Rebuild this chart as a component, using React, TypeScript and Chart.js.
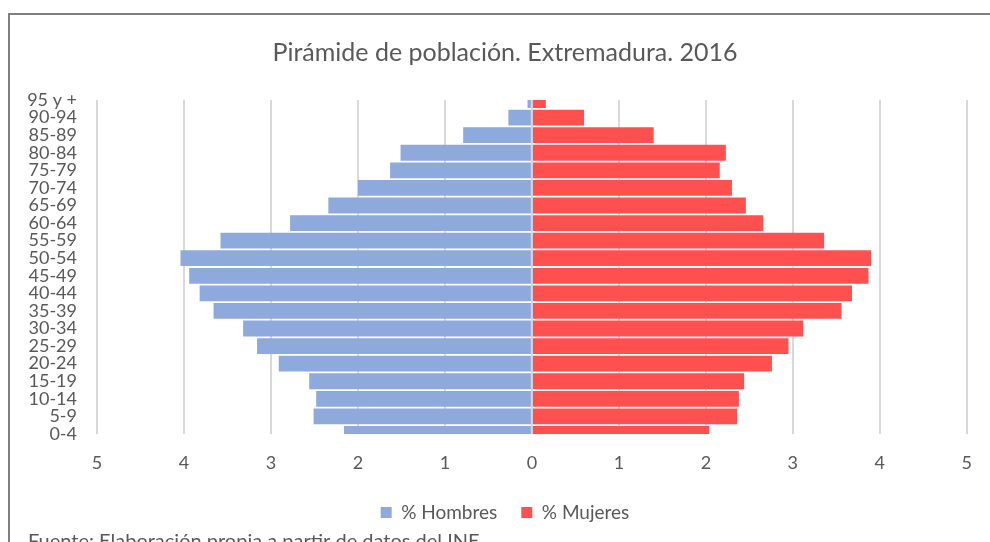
import { useEffect, useRef } from 'react';
import { Chart, registerables } from 'chart.js';

Chart.register(...registerables);

const chartTitle = 'Pirámide de población. Extremadura. 2016';
const sourceNote = 'Fuente: Elaboración propia a partir de datos del INE';
const maleLabel = '% Hombres';
const femaleLabel = '% Mujeres';

const ageGroups = [
  '95 y +', '90-94', '85-89', '80-84', '75-79', '70-74', '65-69', '60-64', '55-59', '50-54',
  '45-49', '40-44', '35-39', '30-34', '25-29', '20-24', '15-19', '10-14', '5-9', '0-4',
];
const hombres = [0.05, 0.27, 0.79, 1.51, 1.63, 2.0, 2.34, 2.78, 3.58, 4.04, 3.94, 3.82, 3.66, 3.32, 3.16, 2.91, 2.56, 2.48, 2.51, 2.16];
const mujeres = [0.16, 0.6, 1.4, 2.23, 2.16, 2.3, 2.46, 2.66, 3.36, 3.9, 3.87, 3.68, 3.56, 3.12, 2.95, 2.76, 2.44, 2.38, 2.36, 2.04];
const axisMin = -5;
const axisMax = 5;
const axisStep = 1;

const FONT = 'Lato';
const GREY = '#595959';

const framePlugin = {
  id: 'frameAndSource',
  beforeDraw(chart: any) {
    const ctx = chart.ctx;
    ctx.save();
    ctx.fillStyle = '#ffffff';
    ctx.fillRect(0, 0, chart.width, chart.height);
    ctx.strokeStyle = '#7f7f7f';
    ctx.lineWidth = 2;
    ctx.beginPath();
    ctx.moveTo(9, chart.height + 4);
    ctx.lineTo(9, 14);
    ctx.lineTo(chart.width + 4, 14);
    ctx.stroke();
    ctx.restore();
  },
  afterDraw(chart: any) {
    const ctx = chart.ctx;
    ctx.save();
    ctx.fillStyle = GREY;
    ctx.font = `20px ${FONT}`;
    ctx.textAlign = 'left';
    ctx.textBaseline = 'alphabetic';
    ctx.fillText(sourceNote, 28, 548);
    ctx.restore();
  },
};

function PyramidChart() {
  const ref = useRef<HTMLCanvasElement | null>(null);
  useEffect(() => {
    let chart: Chart | null = null;
    let cancelled = false;
    const make = () => {
      if (cancelled || !ref.current) return;
      chart = new Chart(ref.current, {
        type: 'bar',
        data: {
          labels: ageGroups,
          datasets: [
            {
              label: maleLabel,
              data: hombres.map((v) => -v),
              backgroundColor: '#8ea9db',
              barPercentage: 0.9,
              categoryPercentage: 1,
            },
            {
              label: femaleLabel,
              data: mujeres,
              backgroundColor: '#ff5050',
              barPercentage: 0.9,
              categoryPercentage: 1,
            },
          ],
        },
        options: {
          indexAxis: 'y',
          animation: false,
          responsive: false,
          devicePixelRatio: 1,
          layout: { padding: { top: 14, left: 20, right: 0, bottom: 10 } },
          scales: {
            x: {
              stacked: true,
              min: axisMin,
              max: axisMax,
              ticks: {
                stepSize: axisStep,
                color: GREY,
                font: { family: FONT, size: 18 },
                padding: 18,
                callback: (v: any) => String(Math.abs(Number(v))),
              },
              grid: { color: '#d9d9d9', lineWidth: 2, drawTicks: false },
              border: { display: false },
              afterFit: (s: any) => {
                s.height = 45;
              },
            },
            y: {
              stacked: true,
              offset: false,
              ticks: {
                autoSkip: false,
                color: GREY,
                font: { family: FONT, size: 18 },
                padding: 20,
              },
              grid: { display: false, drawTicks: false },
              border: { display: false },
              afterFit: (s: any) => {
                s.width = 77;
              },
            },
            yRight: {
              type: 'category',
              position: 'right',
              ticks: { display: false },
              grid: { display: false, drawTicks: false },
              border: { display: false },
              afterFit: (s: any) => {
                s.width = 23;
              },
            },
          },
          plugins: {
            title: {
              display: true,
              text: chartTitle,
              color: GREY,
              font: { family: FONT, size: 25, weight: 'normal' },
              padding: { top: 24, bottom: 32 },
            },
            legend: {
              position: 'bottom',
              labels: {
                boxWidth: 11,
                boxHeight: 11,
                padding: 24,
                color: GREY,
                font: { family: FONT, size: 19 },
              },
            },
            tooltip: { enabled: false },
          },
        },
        plugins: [framePlugin],
      } as any);
    };
    const fontsReady = (document as any).fonts
      ? Promise.all([
          (document as any).fonts.load(`18px ${FONT}`),
          (document as any).fonts.load(`25px ${FONT}`),
        ]).catch(() => null)
      : Promise.resolve(null);
    fontsReady.then(make);
    return () => {
      cancelled = true;
      if (chart) chart.destroy();
    };
  }, []);
  return <canvas ref={ref} width={990} height={542} style={{ display: 'block', width: 990, height: 542 }} />;
}

export default function App() {
  return (
    <div style={{ position: 'absolute', left: 0, top: 0, width: 990, height: 542, overflow: 'hidden', background: '#fff' }}>
      <PyramidChart />
    </div>
  );
}
